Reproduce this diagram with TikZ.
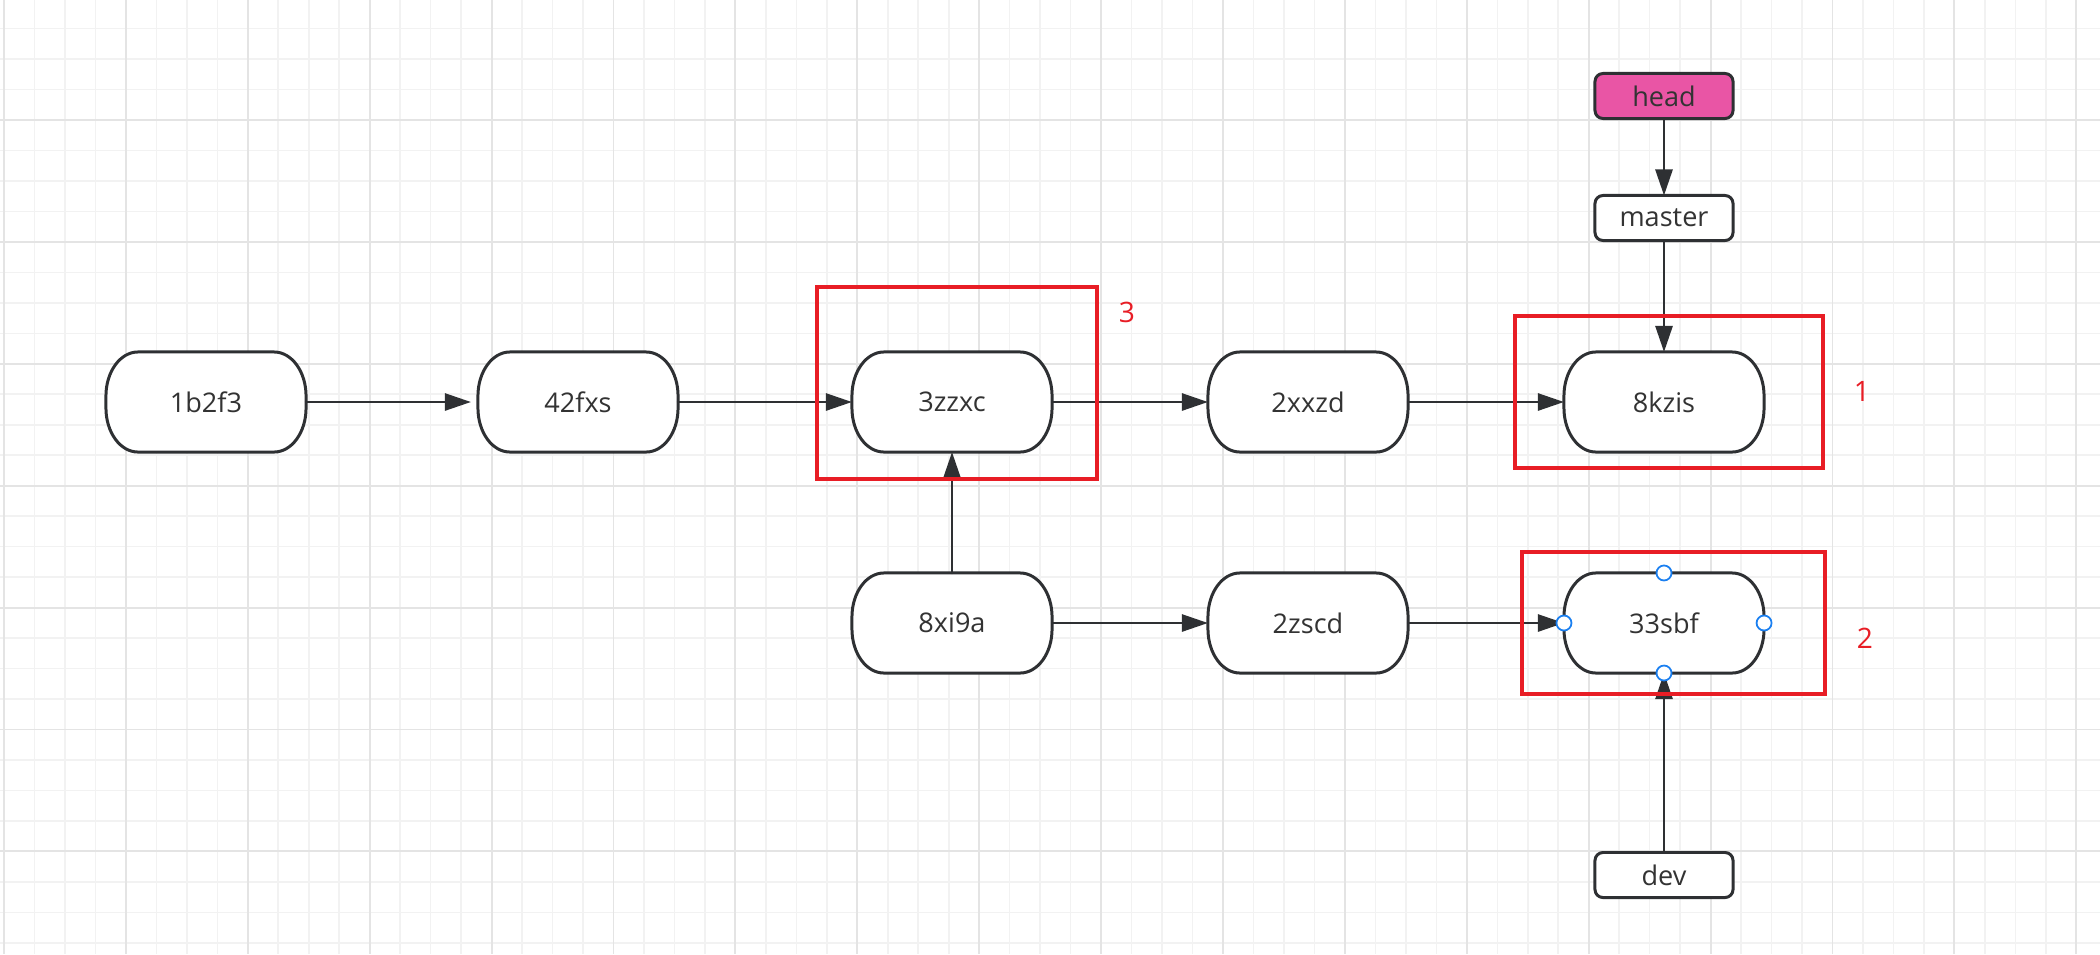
\documentclass[tikz,border=0pt]{standalone}
\usepackage{fontspec}
\setmainfont{Open Sans}
\usetikzlibrary{arrows.meta}
\usetikzlibrary{calc}
\definecolor{linecol}{HTML}{2E3033}
\definecolor{txtcol}{HTML}{333333}
\definecolor{headcol}{HTML}{E955A5}
\definecolor{markred}{HTML}{E81D25}
\definecolor{dotblue}{HTML}{1A7FF0}
\definecolor{gridminor}{HTML}{F2F2F2}
\definecolor{gridmajor}{HTML}{E4E4E4}
\pgfdeclarelayer{shapes}
\pgfsetlayers{shapes,main}
% outline of a commit, drawn round a named node
\newcommand{\commitshape}[1]{%
  \draw[line width=0.85pt,draw=linecol,fill=white]
    ($(#1.north west)+(32,0)$) -- ($(#1.north east)+(-32,0)$)
    arc[start angle=90,end angle=0,x radius=32,y radius=44]
    -- ($(#1.south east)+(0,44)$)
    arc[start angle=0,end angle=-90,x radius=32,y radius=44]
    -- ($(#1.south west)+(32,0)$)
    arc[start angle=270,end angle=180,x radius=32,y radius=44]
    -- ($(#1.north west)+(0,-44)$)
    arc[start angle=180,end angle=90,x radius=32,y radius=44]
    -- cycle;}
\begin{document}
\begin{tikzpicture}[x=0.01cm,y=0.01cm,line cap=round,line join=round,
    >={Triangle[length=0.26cm,width=0.17cm]},
    commit/.style={minimum width=2cm,minimum height=1cm,inner sep=0pt,outer sep=0pt,
      text=txtcol,font=\fontsize{7.7pt}{9pt}\selectfont},
    branch/.style={draw=linecol,line width=0.85pt,fill=white,rounded corners=0.08cm,
      minimum width=1.38cm,minimum height=0.45cm,inner sep=0pt,outer sep=0pt,
      text=txtcol,font=\fontsize{7.7pt}{9pt}\selectfont},
    link/.style={->,draw=linecol,line width=0.75pt},
    redbox/.style={draw=markred,line width=1.1pt,line cap=butt,line join=miter},
    tag/.style={text=markred,font=\fontsize{8pt}{9pt}\selectfont}]
  \useasboundingbox (0,0) rectangle (2100,-954);
  \begin{pgfonlayer}{shapes}
    \fill[white] (0,0) rectangle (2100,-954);
    \foreach \k in {0,...,68}
      \draw[gridminor,line width=0.45pt] ({4+30.475*\k},0) -- ({4+30.475*\k},-954);
    \foreach \k in {-3,...,27}
      \draw[gridminor,line width=0.45pt] (0,{-120-30.475*\k}) -- (2100,{-120-30.475*\k});
    \foreach \k in {0,...,17}
      \draw[gridmajor,line width=0.55pt] ({4+121.9*\k},0) -- ({4+121.9*\k},-954);
    \foreach \k in {0,...,6}
      \draw[gridmajor,line width=0.55pt] (0,{-120-121.9*\k}) -- (2100,{-120-121.9*\k});
  \end{pgfonlayer}

  % commits
  \node[commit] (c1b2f3) at (206,-402) {1b2f3};
  \node[commit] (c42fxs) at (578,-402) {42fxs};
  \node[commit] (c3zzxc) at (952,-402) {3zzxc};
  \node[commit] (c2xxzd) at (1308,-402) {2xxzd};
  \node[commit] (c8kzis) at (1664,-402) {8kzis};
  \node[commit] (c8xi9a) at (952,-623) {8xi9a};
  \node[commit] (c2zscd) at (1308,-623) {2zscd};
  \node[commit] (c33sbf) at (1664,-623) {33sbf};
  \begin{pgfonlayer}{shapes}
    \foreach \n in {c1b2f3,c42fxs,c3zzxc,c2xxzd,c8kzis,c8xi9a,c2zscd,c33sbf}
      \commitshape{\n};
  \end{pgfonlayer}

  % pointers
  \node[branch,fill=headcol] (head) at (1664,-96) {head};
  \node[branch] (master) at (1664,-218) {master};
  \node[branch] (dev) at (1664,-875) {dev};

  \draw[link,shorten >=0.07cm] (c1b2f3) -- (c42fxs);
  \draw[link] (c42fxs) -- (c3zzxc);
  \draw[link] (c3zzxc) -- (c2xxzd);
  \draw[link] (c2xxzd) -- (c8kzis);
  \draw[link] (c8xi9a) -- (c3zzxc);
  \draw[link] (c8xi9a) -- (c2zscd);
  \draw[link] (c2zscd) -- (c33sbf);
  \draw[link] (head) -- (master);
  \draw[link] (master) -- (c8kzis);
  \draw[link] (dev) -- (c33sbf);

  % marks
  \draw[redbox] (1515,-316) rectangle (1823,-468);
  \draw[redbox] (1522,-552) rectangle (1825,-694);
  \draw[redbox] (817,-287) rectangle (1097,-479);
  \node[tag] (tag1) at (1862,-391) {1};
  \node[tag] (tag2) at (1865,-638) {2};
  \node[tag] (tag3) at (1127,-312) {3};

  \foreach \a in {north,south,east,west}
    \draw[dotblue,fill=white,line width=0.5pt] (c33sbf.\a) circle[radius=7.5];
\end{tikzpicture}
\end{document}
